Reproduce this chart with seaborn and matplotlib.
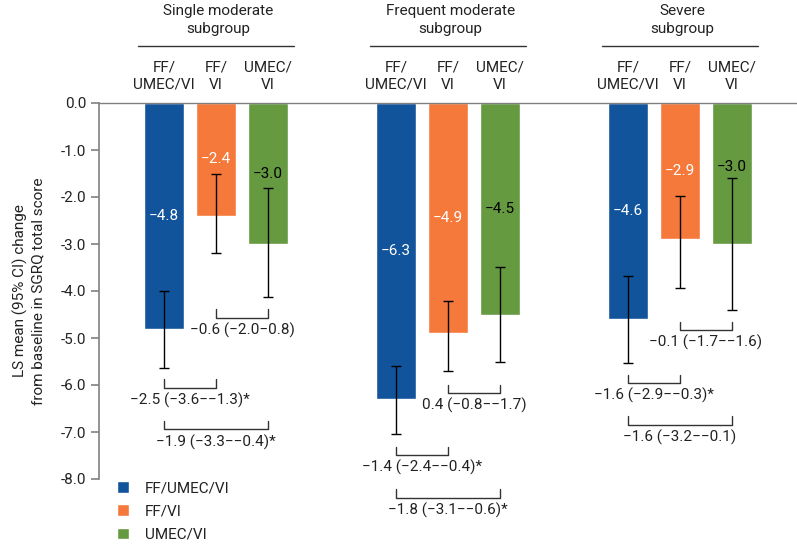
import matplotlib
matplotlib.use("Agg")
import matplotlib.pyplot as plt
import seaborn as sns
import pandas as pd
from matplotlib.transforms import blended_transform_factory

# ---------------- data ----------------
subgroups = ["Single moderate\nsubgroup", "Frequent moderate\nsubgroup", "Severe\nsubgroup"]
treatments = ["FF/UMEC/VI", "FF/VI", "UMEC/VI"]
col_labels = ["FF/\nUMEC/VI", "FF/\nVI", "UMEC/\nVI"]

ff_umec_vi = [-4.8, -6.3, -4.6]
ff_vi = [-2.4, -4.9, -2.9]
umec_vi = [-3.0, -4.5, -3.0]

ff_umec_vi_ci_low = [-5.63, -7.05, -5.53]
ff_umec_vi_ci_high = [-4.00, -5.60, -3.68]
ff_vi_ci_low = [-3.20, -5.70, -3.93]
ff_vi_ci_high = [-1.52, -4.22, -1.97]
umec_vi_ci_low = [-4.12, -5.52, -4.40]
umec_vi_ci_high = [-1.80, -3.48, -1.60]

# comparisons: (group, bar a, bar b, label)
comp_group = [0, 0, 0, 1, 1, 1, 2, 2, 2]
comp_a = [1, 0, 0, 1, 0, 0, 1, 0, 0]
comp_b = [2, 1, 2, 2, 1, 2, 2, 1, 2]
comp_labels = [
    "\u22120.6 (\u22122.0\u22120.8)",
    "\u22122.5 (\u22123.6\u2212\u22121.3)*",
    "\u22121.9 (\u22123.3\u2212\u22120.4)*",
    "0.4 (\u22120.8\u2212\u22121.7)",
    "\u22121.4 (\u22122.4\u2212\u22120.4)*",
    "\u22121.8 (\u22123.1\u2212\u22120.6)*",
    "\u22120.1 (\u22121.7\u2212\u22121.6)",
    "\u22121.6 (\u22122.9\u2212\u22120.3)*",
    "\u22121.6 (\u22123.2\u2212\u22120.1)",
]
# layout: bracket heights (data units)
comp_y = [-4.57, -6.06, -6.94, -6.17, -7.49, -8.40, -4.83, -5.96, -6.85]

colors = ["#12549B", "#F4793A", "#669A40"]
label_colors = ["white", "white", "black"]

values = [ff_umec_vi, ff_vi, umec_vi]
ci_lo = [ff_umec_vi_ci_low, ff_vi_ci_low, umec_vi_ci_low]
ci_hi = [ff_umec_vi_ci_high, ff_vi_ci_high, umec_vi_ci_high]

rows = []
for t, vals in zip(treatments, values):
    for s, v in zip(subgroups, vals):
        rows.append({"subgroup": s, "treatment": t, "value": v})
df = pd.DataFrame(rows)

# ---------------- figure ----------------
sns.set_theme(style="white")
plt.rcParams["font.family"] = ["Roboto", "DejaVu Sans"]
FS = 11
TXT = "#222222"

fig = plt.figure(figsize=(7.97, 5.45), dpi=100)
W, H = 797, 545
ax = fig.add_axes([99 / W, 1 - 479 / H, 1 - 99 / W, (479 - 103) / H])

sns.barplot(data=df, x="subgroup", y="value", hue="treatment",
            order=subgroups, hue_order=treatments, palette=colors,
            saturation=1, width=0.672, gap=0.23, errorbar=None, ax=ax)

ax.set_ylim(-8.0, 0.0)
ax.set_xlim(-0.505, 2.505)
ticks = [0, -1, -2, -3, -4, -5, -6, -7, -8]
ax.set_yticks(ticks)
ax.set_yticklabels([f"{v:.1f}" if v == 0 else f"-{abs(v):.1f}" for v in ticks],
                   fontsize=FS, color=TXT)
ax.set_xticks([])
ax.set_xlabel("")
ax.set_ylabel("LS mean (95% CI) change\nfrom baseline in SGRQ total score",
              fontsize=FS, color=TXT, linespacing=1.3)
ax.yaxis.set_label_coords(-0.077, 0.5)
for s in ["right", "bottom"]:
    ax.spines[s].set_visible(False)
ax.spines["left"].set_color("#808080")
ax.spines["top"].set_color("#808080")
ax.spines["left"].set_linewidth(1.2)
ax.spines["top"].set_linewidth(1.0)
ax.tick_params(axis="y", direction="out", length=6, width=1.2, color="#808080", pad=3, left=True)

# bar centres from the library's own bars
bar_containers = list(ax.containers)
centers = []
for h, cont in enumerate(bar_containers):
    cs = [p.get_x() + p.get_width() / 2 for p in cont.patches]
    centers.append(cs)
for h in range(3):
    cs = centers[h]
    vals = values[h]
    lo = [v - l for v, l in zip(vals, ci_lo[h])]
    hi = [u - v for v, u in zip(vals, ci_hi[h])]
    ax.errorbar(cs, vals, yerr=[lo, hi], fmt="none", ecolor="black",
                elinewidth=1.0, capsize=3.5, capthick=1.0, zorder=5)
    for x, v, top in zip(cs, vals, ci_hi[h]):
        ly = max(v / 2, top + 0.24)
        ax.text(x, ly, f"\u2212{abs(v):.1f}", ha="center", va="center",
                fontsize=FS, color=label_colors[h], zorder=6)

# comparison brackets
tick = 0.18
for g, a, b, lab, y in zip(comp_group, comp_a, comp_b, comp_labels, comp_y):
    xa = centers[a][g]
    xb = centers[b][g]
    ax.plot([xa, xa, xb, xb], [y + tick, y, y, y + tick], color="#333333",
            lw=1.0, clip_on=False, zorder=4)
    ax.text((xa + xb) / 2, y - 0.27, lab, ha="center", va="center",
            fontsize=FS, color=TXT, clip_on=False)

# headers
trans = blended_transform_factory(ax.transData, fig.transFigure)
for g, name in enumerate(subgroups):
    gc = (centers[0][g] + centers[2][g]) / 2
    ax.text(gc + 0.01, 1 - 20 / H, name, transform=trans, ha="center", va="center",
            fontsize=FS, color=TXT, linespacing=1.3)
    ax.plot([gc - 0.335, gc + 0.335], [1 - 46 / H, 1 - 46 / H], transform=trans,
            color="#333333", lw=1.0, clip_on=False)
    for h in range(3):
        ax.text(centers[h][g], 1 - 76 / H, col_labels[h], transform=trans,
                ha="center", va="center", fontsize=FS, color=TXT, linespacing=1.3)

# legend
handles, _ = ax.get_legend_handles_labels()
leg = ax.legend(handles[:3], treatments, loc="upper left",
                bbox_to_anchor=(111 / W, 1 - 475 / H), bbox_transform=fig.transFigure,
                frameon=False, fontsize=FS, handlelength=0.8, handleheight=0.8,
                handletextpad=1.0, labelspacing=0.6, borderaxespad=0)
for t in leg.get_texts():
    t.set_color(TXT)

fig.savefig("out.png", dpi=100)
